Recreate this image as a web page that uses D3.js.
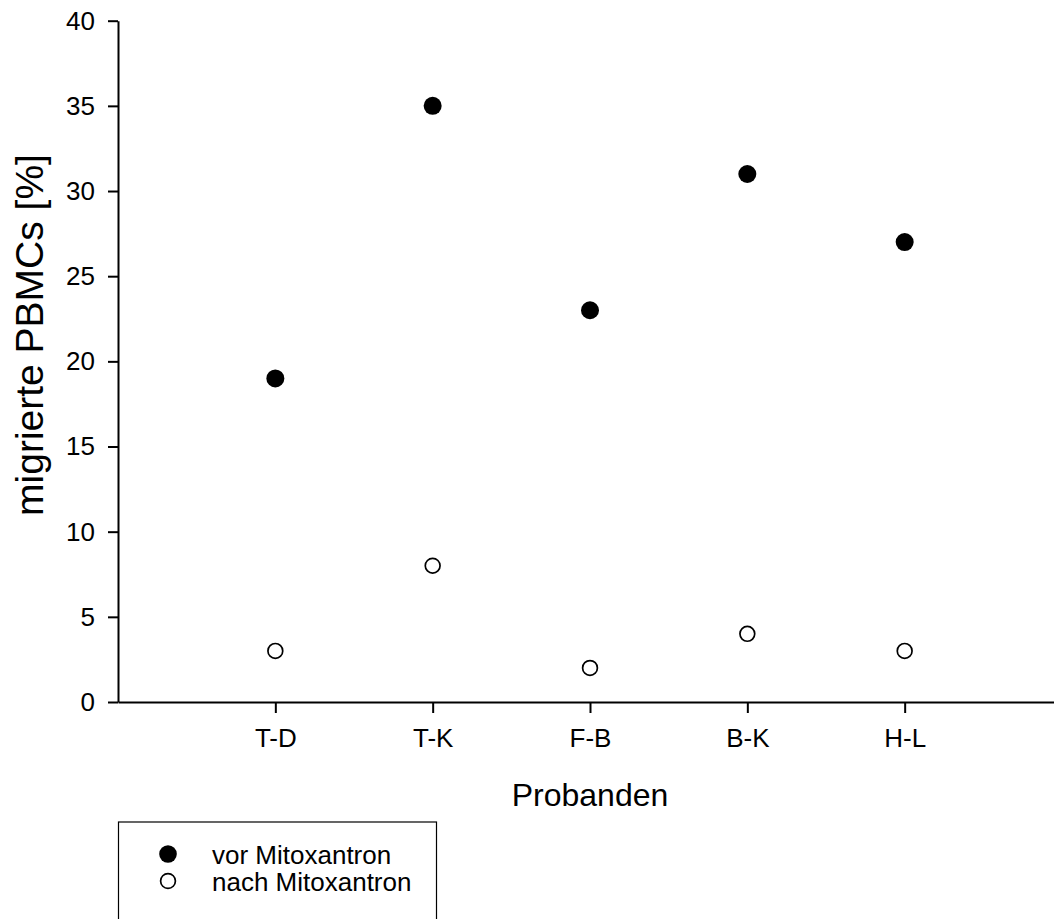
<!DOCTYPE html>
<html lang="en">
<head>
<meta charset="utf-8">
<style type="text/css">
    body { margin: 0; background: #fff; }
    svg { display: block; font-family: "Liberation Sans", Arial, sans-serif; }
    .axis path, .axis line { stroke: #000; stroke-width: 2px; }
    .axis text { font-size: 26px; fill: #000; font-family: "Liberation Sans", Arial, sans-serif; }
</style>
</head>
<body>
<svg width="1054" height="919"></svg>
<script src="https://cdn.jsdelivr.net/npm/d3@7"></script>
<script type="text/javascript">
var probanden = ["T-D", "T-K", "F-B", "B-K", "H-L"];
var vorMitoxantron = [19, 35, 23, 31, 27];
var nachMitoxantron = [3, 8, 2, 4, 3];
var yTicks = [0, 5, 10, 15, 20, 25, 30, 35, 40];

var svg = d3.select("svg");

// x runs 0..6, categories sit at 1..5
var x = d3.scaleLinear().domain([0, 6]).range([118, 1062]);
var y = d3.scaleLinear().domain([0, 40]).range([702, 20.7]);

svg.append("g")
    .attr("class", "axis")
    .attr("transform", "translate(118,0)")
    .call(d3.axisLeft(y).tickValues(yTicks).tickSize(10).tickSizeOuter(0).tickPadding(13));

svg.append("g")
    .attr("class", "axis")
    .attr("transform", "translate(0,702)")
    .call(d3.axisBottom(x).tickValues([1, 2, 3, 4, 5])
        .tickFormat(function(d) { return probanden[d - 1]; })
        .tickSize(11).tickSizeOuter(0).tickPadding(16));

svg.append("text")
    .attr("x", x(3))
    .attr("y", 806)
    .attr("text-anchor", "middle")
    .style("font-size", "32px")
    .text("Probanden");

svg.append("text")
    .attr("transform", "translate(43,335) rotate(-90)")
    .attr("text-anchor", "middle")
    .style("font-size", "39px")
    .text("migrierte PBMCs [%]");

// points
svg.selectAll("circle.vor")
    .data(vorMitoxantron)
    .enter().append("circle")
    .attr("class", "vor")
    .attr("cx", function(d, i) { return x(i + 1); })
    .attr("cy", function(d) { return y(d); })
    .attr("r", 9)
    .attr("fill", "#000");

svg.selectAll("circle.nach")
    .data(nachMitoxantron)
    .enter().append("circle")
    .attr("class", "nach")
    .attr("cx", function(d, i) { return x(i + 1); })
    .attr("cy", function(d) { return y(d); })
    .attr("r", 7.4)
    .attr("fill", "#fff")
    .attr("stroke", "#000")
    .attr("stroke-width", 1.7);

// legend
var legend = svg.append("g");
legend.append("rect")
    .attr("x", 118.5).attr("y", 822)
    .attr("width", 318).attr("height", 130)
    .attr("fill", "none").attr("stroke", "#000").attr("stroke-width", 1.2);

var legendItems = [
    { label: "vor Mitoxantron", filled: true },
    { label: "nach Mitoxantron", filled: false }
];
legendItems.forEach(function(d, i) {
    var cy = 854 + i * 27;
    legend.append("circle")
        .attr("cx", 168).attr("cy", cy)
        .attr("r", d.filled ? 8.8 : 7.4)
        .attr("fill", d.filled ? "#000" : "#fff")
        .attr("stroke", "#000").attr("stroke-width", d.filled ? 0 : 1.7);
    legend.append("text")
        .attr("x", 212).attr("y", cy + 10)
        .style("font-size", "26px")
        .text(d.label);
});
</script>
</body>
</html>
